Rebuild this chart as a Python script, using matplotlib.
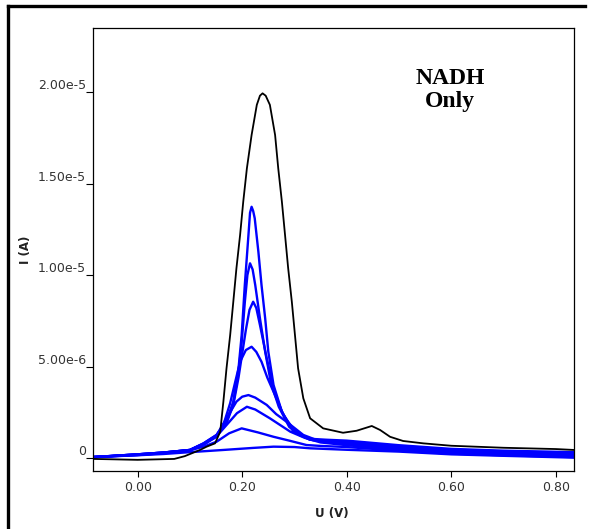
import numpy as np
import matplotlib
matplotlib.use("Agg")
from matplotlib import pyplot as plt
from matplotlib.lines import Line2D

# potential (V) and current (uA)
u_black = [-0.085, 0.0, 0.07, 0.09, 0.12, 0.132, 0.148, 0.158, 0.164, 0.170, 0.177, 0.183,
           0.189, 0.196, 0.202, 0.209, 0.218, 0.228, 0.234, 0.239, 0.245, 0.253, 0.263,
           0.269, 0.276, 0.282, 0.288, 0.295, 0.301, 0.307, 0.317, 0.330, 0.355, 0.393,
           0.419, 0.448, 0.464, 0.483, 0.508, 0.547, 0.60, 0.70, 0.80, 0.835]
i_black = [-0.05, -0.1, -0.05, 0.1, 0.45, 0.62, 0.80, 1.44, 3.08, 4.9, 6.72, 8.54,
           10.37, 12.19, 14.0, 15.83, 17.65, 19.3, 19.8, 19.93, 19.8, 19.3, 17.65,
           15.83, 14.0, 12.19, 10.37, 8.54, 6.72, 4.9, 3.26, 2.17, 1.62, 1.38,
           1.49, 1.75, 1.53, 1.16, 0.93, 0.80, 0.67, 0.56, 0.49, 0.44]

u_b1 = [-0.085, 0.0, 0.05, 0.10, 0.126, 0.151, 0.170, 0.183, 0.193, 0.199, 0.205, 0.212,
        0.215, 0.218, 0.221, 0.224, 0.231, 0.237, 0.244, 0.250, 0.260, 0.276, 0.298,
        0.33, 0.36, 0.40, 0.50, 0.60, 0.70, 0.835]
i_b1 = [0.05, 0.2, 0.3, 0.44, 0.8, 1.26, 1.98, 3.08, 4.9, 6.72, 9.45, 12.19,
        13.4, 13.73, 13.5, 13.1, 11.27, 9.45, 7.63, 5.81, 3.99, 2.53, 1.44,
        1.05, 1.0, 0.95, 0.7, 0.5, 0.4, 0.32]

u_b2 = [-0.085, 0.0, 0.05, 0.10, 0.126, 0.151, 0.170, 0.183, 0.193, 0.199, 0.205, 0.210,
        0.215, 0.220, 0.225, 0.234, 0.244, 0.255, 0.27, 0.29, 0.31, 0.33, 0.36, 0.40,
        0.50, 0.60, 0.70, 0.835]
i_b2 = [0.05, 0.2, 0.3, 0.44, 0.8, 1.26, 1.98, 3.0, 4.7, 6.3, 8.5, 10.0,
        10.64, 10.3, 9.45, 7.63, 5.81, 4.1, 2.8, 1.7, 1.25, 1.0, 0.95, 0.9,
        0.65, 0.46, 0.36, 0.28]

u_b3 = [-0.085, 0.0, 0.05, 0.10, 0.126, 0.151, 0.170, 0.183, 0.193, 0.200, 0.207, 0.214,
        0.221, 0.227, 0.234, 0.247, 0.26, 0.275, 0.29, 0.31, 0.33, 0.36, 0.40, 0.50,
        0.60, 0.70, 0.835]
i_b3 = [0.05, 0.2, 0.3, 0.44, 0.78, 1.2, 1.9, 2.9, 4.4, 5.7, 7.0, 8.1,
        8.54, 8.2, 7.27, 5.45, 3.8, 2.6, 1.8, 1.3, 1.0, 0.9, 0.85, 0.6,
        0.42, 0.32, 0.24]

u_b4 = [-0.085, 0.0, 0.05, 0.10, 0.126, 0.15, 0.165, 0.177, 0.187, 0.196, 0.207, 0.218,
        0.227, 0.237, 0.248, 0.260, 0.279, 0.30, 0.33, 0.36, 0.40, 0.50, 0.60, 0.70, 0.835]
i_b4 = [0.05, 0.2, 0.3, 0.44, 0.76, 1.15, 1.9, 3.0, 4.2, 5.26, 5.9, 6.08,
        5.8, 5.26, 4.4, 3.62, 2.35, 1.5, 1.0, 0.9, 0.8, 0.55, 0.38, 0.28, 0.2]

u_b5 = [-0.085, 0.0, 0.05, 0.10, 0.13, 0.15, 0.170, 0.189, 0.20, 0.212, 0.225, 0.247,
        0.265, 0.285, 0.317, 0.35, 0.40, 0.50, 0.60, 0.70, 0.835]
i_b5 = [0.05, 0.18, 0.28, 0.42, 0.8, 1.2, 2.17, 3.08, 3.35, 3.44, 3.3, 2.9,
        2.4, 1.98, 1.26, 0.9, 0.75, 0.5, 0.33, 0.24, 0.15]

u_b6 = [-0.085, 0.0, 0.05, 0.10, 0.13, 0.15, 0.17, 0.19, 0.209, 0.225, 0.253, 0.292,
        0.32, 0.35, 0.40, 0.50, 0.60, 0.70, 0.835]
i_b6 = [0.05, 0.17, 0.27, 0.42, 0.8, 1.15, 1.8, 2.45, 2.8, 2.65, 2.17, 1.44,
        1.1, 0.85, 0.7, 0.45, 0.28, 0.2, 0.1]

u_b7 = [-0.085, 0.0, 0.05, 0.10, 0.126, 0.151, 0.175, 0.199, 0.23, 0.26, 0.29, 0.323,
        0.35, 0.40, 0.50, 0.60, 0.70, 0.835]
i_b7 = [0.05, 0.16, 0.26, 0.42, 0.62, 0.89, 1.35, 1.62, 1.4, 1.16, 0.95, 0.71,
        0.66, 0.6, 0.4, 0.24, 0.15, 0.05]

u_b8 = [-0.085, 0.0, 0.05, 0.10, 0.164, 0.22, 0.26, 0.30, 0.33, 0.40, 0.50, 0.60, 0.70, 0.835]
i_b8 = [0.05, 0.15, 0.22, 0.32, 0.44, 0.55, 0.62, 0.6, 0.53, 0.45, 0.35, 0.2, 0.12, 0.02]

blue_u = [u_b1, u_b2, u_b3, u_b4, u_b5, u_b6, u_b7, u_b8]
blue_i = [i_b1, i_b2, i_b3, i_b4, i_b5, i_b6, i_b7, i_b8]

xticks = [0.0, 0.2, 0.4, 0.6, 0.8]
xticklabels = ["0.00", "0.20", "0.40", "0.60", "0.80"]
yticks = [0, 5e-6, 1e-5, 1.5e-5, 2e-5]
yticklabels = ["0", "5.00e-6", "1.00e-5", "1.50e-5", "2.00e-5"]

fig = plt.figure(figsize=(5.9, 5.29), dpi=100)
ax = fig.add_axes([93 / 590, 1 - 471 / 529, 481 / 590, 443 / 529])

for u, i in zip(blue_u, blue_i):
    ax.plot(u, np.array(i) * 1e-6, color="#0000ff", lw=1.7, solid_joinstyle="round")
ax.plot(u_black, np.array(i_black) * 1e-6, color="black", lw=1.3, solid_joinstyle="round")

ax.set_xlim(-0.0855, 0.835)
ax.set_ylim(-0.71e-6, 23.5e-6)

ax.set_xticks(xticks)
ax.set_xticklabels(xticklabels)
ax.set_yticks(yticks)
ax.set_yticklabels(yticklabels)
ax.tick_params(axis="x", direction="out", length=4, width=0.8, pad=3,
               labelsize=9, labelcolor="#333333")
ax.tick_params(axis="y", direction="out", length=5, width=0.8, pad=0,
               labelsize=9, labelcolor="#333333")
for lab in ax.get_yticklabels():
    lab.set_va("bottom")
for sp in ax.spines.values():
    sp.set_linewidth(0.9)

ax.text(0.742, 0.86, "NADH\nOnly", transform=ax.transAxes, ha="center", va="center",
        family="Liberation Serif", fontweight="bold", fontsize=17, linespacing=1.15)

fig.text(332 / 590, 1 - 513 / 529, "U (V)", ha="center", va="center",
         fontsize=8.5, fontweight="bold", color="#222222")
fig.text(25 / 590, 1 - 250 / 529, "I (A)", ha="center", va="center", rotation=90,
         fontsize=8.5, fontweight="bold", color="#222222")

# outer frame (top and left edges only)
fig.add_artist(Line2D([8 / 590, 585 / 590], [1 - 6 / 529, 1 - 6 / 529],
                      transform=fig.transFigure, color="black", lw=2.4))
fig.add_artist(Line2D([8 / 590, 8 / 590], [1 - 6 / 529, 0],
                      transform=fig.transFigure, color="black", lw=2.4))

fig.savefig("out.png", dpi=100)
